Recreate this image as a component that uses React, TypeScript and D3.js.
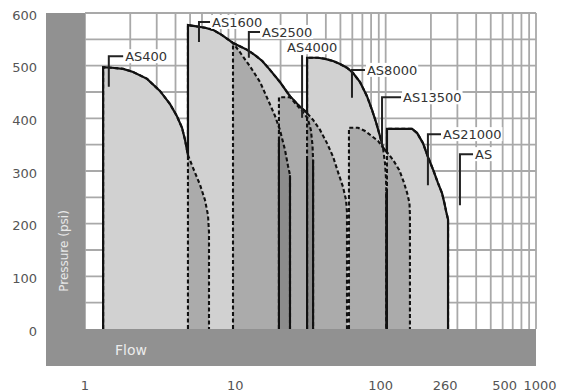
import React from 'react';
import * as d3 from 'd3';

const W = 568;
const H = 392;

// axis ticks
const yTickValues = [0, 100, 200, 300, 400, 500, 600];
const xTickValues = [1, 10, 100, 260, 500, 1000];
const xTickLabels = ['1', '10', '100', '260', '500', '1000'];
const xTickNudge = [0, 0, -5, -3, 14, 4];

// operating envelopes [flow, psi]
const as400 = [[1.32,0],[1.32,497],[1.51,496],[1.79,494],[2.09,488],[2.59,475],[3.15,452],[3.68,427],[4.09,404],[4.42,382],[4.63,359],[4.84,330],[5.23,306],[5.82,274],[6.28,245],[6.58,216],[6.68,184],[6.68,0]];
const as1600 = [[4.84,0],[4.84,577],[5.39,575],[6.28,572],[7.10,568],[8.16,558],[9.22,547],[9.65,543],[10.7,526],[12.5,499],[14.6,469],[16.5,435],[18.4,404],[19.8,378],[21.4,340],[22.4,310],[23.1,292],[23.1,0]];
const as2500 = [[9.65,0],[9.65,543],[10.7,537],[12.0,530],[13.5,520],[15.1,509],[17.0,492],[19.8,469],[23.1,442],[26.9,422],[29.1,414],[32.9,397],[36.6,378],[40.7,353],[44.7,327],[48.2,298],[52.0,270],[54.5,245],[55.3,222],[55.3,0]];
const as4000 = [[19.5,0],[19.5,440],[23.1,440],[25.5,426],[28.0,413],[30.3,400],[31.8,378],[32.6,349],[32.9,321],[32.9,0]];
const as8000 = [[30.0,0],[30.0,515],[35.5,515],[39.5,513],[44.7,509],[49.7,503],[55.3,496],[60.7,486],[67.5,469],[75.1,442],[81.1,416],[86.2,393],[91.7,366],[96.0,344],[99.0,315],[100.5,287],[101,260],[101,0]];
const as13500 = [[57.0,0],[57.0,382],[65.5,382],[72.9,376],[81.1,366],[89.0,357],[96.0,344],[100.5,338],[112,321],[123,302],[132,279],[139,258],[144,239],[145,217],[145,0]];
const as21000 = [[102,0],[102,380],[150,380],[162,372],[177,353],[191,327],[207,302],[223,277],[237,258],[246,239],[253,222],[260,208],[260,0]];
const envelopes = [as400, as1600, as2500, as4000, as8000, as13500, as21000];

// vertical edges drawn solid in their lower part [flow, topPsi]
const solidEdgeFlow = [19.5, 23.1, 30.0, 32.9, 101, 102];
const solidEdgeTop = [359, 292, 321, 321, 260, 260];

// labels and leaders
const labelNames = ['AS400', 'AS1600', 'AS2500', 'AS4000', 'AS8000', 'AS13500', 'AS21000', 'AS'];
const leaderFlow = [1.44, 5.73, 12.3, 27.8, 59.7, 94.6, 191, 312];
const leaderTopPsi = [518, 583, 564, 520, 492, 440, 370, 332];
const leaderBottomPsi = [460, 545, 515, 401, 439, 349, 273, 235];
const labelTextFlow = [1.85, 7.0, 15.05, 22.1, 75.1, 130.5, 240.6, 393];
const labelTextPsi = [518, 583, 564, 535, 492, 440, 370, 332];
const labelElbow = [true, true, true, false, true, true, true, true];

const FONT = '"DejaVu Sans", Verdana, sans-serif';

export default function App() {
  const x = d3.scaleLog().domain([1, 1000]).range([85, 536]);
  const y = d3.scaleLinear().domain([0, 600]).range([329, 13]);
  const line = d3.line<number[]>().x(d => x(d[0])).y(d => y(d[1])).curve(d3.curveLinear);
  const closed = (e: number[][]) => line(e) + 'Z';

  const gridX: number[] = [];
  [1, 10, 100].forEach(k => { for (let m = 1; m <= 9; m++) gridX.push(m * k); });
  gridX.push(1000);
  const gridY = d3.range(50, 601, 50);

  const textW = (s: string) => s.split('').reduce((a, c) => a + (c === 'A' ? 8.9 : c === 'S' ? 8.25 : 8.27), 0);

  return (
    <svg width={W} height={H} style={{ position: 'absolute', left: 0, top: 0, background: '#fff' }}>
      <defs>
        {envelopes.map((_, i) => (
          <mask id={`m${i}`} key={i} maskUnits="userSpaceOnUse" x={0} y={0} width={W} height={H}>
            <rect x={0} y={0} width={W} height={H} fill="white" />
            {envelopes.map((e, j) => (j !== i ? <path key={j} d={closed(e)} fill="black" /> : null))}
          </mask>
        ))}
      </defs>

      {/* grid */}
      <g stroke="#a9a9a9" strokeWidth={1.8}>
        {gridY.map(v => (
          <line key={'h' + v} x1={x(1)} x2={x(1000)} y1={y(v)} y2={y(v)} />
        ))}
        {gridX.map(v => (
          <line key={'v' + v} x1={x(v)} x2={x(v)} y1={y(0)} y2={y(600)} />
        ))}
      </g>

      {/* envelope fills */}
      {envelopes.map((e, i) => <path key={'w' + i} d={closed(e)} fill="#fff" />)}
      {envelopes.map((e, i) => <path key={'f' + i} d={closed(e)} fill="#000" fillOpacity={0.18} />)}

      {/* dashed outlines (inside other envelopes) */}
      {envelopes.map((e, i) => (
        <path key={'d' + i} d={line(e) || ''} fill="none" stroke="#111" strokeWidth={2.1} strokeDasharray="4 2.5" />
      ))}
      {/* solid outlines (outside other envelopes) */}
      {envelopes.map((e, i) => (
        <path key={'s' + i} d={line(e) || ''} fill="none" stroke="#111" strokeWidth={2.2} mask={`url(#m${i})`} />
      ))}
      {solidEdgeFlow.map((f, i) => (
        <line key={'se' + i} x1={x(f)} x2={x(f)} y1={y(solidEdgeTop[i])} y2={y(0)} stroke="#111" strokeWidth={2.1} />
      ))}

      {/* gray bands */}
      <rect x={46} y={y(600)} width={x(1) - 46} height={366 - y(600)} fill="#919191" />
      <rect x={46} y={y(0)} width={x(1000) - 46} height={366 - y(0)} fill="#919191" />
      <text x={0} y={0} transform={`translate(68,251) rotate(-90)`} textAnchor="middle" fontFamily={FONT} fontSize={12} fill="#e8e8e8">Pressure (psi)</text>
      <text x={131} y={355} textAnchor="middle" fontFamily={FONT} fontSize={14} fill="#ececec">Flow</text>

      {/* y tick labels */}
      {yTickValues.map(v => (
        <text key={'yt' + v} x={37} y={y(v) + 6.5} textAnchor="end" fontFamily={FONT} fontSize={13} fill="#555">{v}</text>
      ))}
      {/* x tick labels */}
      {xTickValues.map((v, i) => (
        <text key={'xt' + v} x={x(v) + xTickNudge[i]} y={390} textAnchor="middle" fontFamily={FONT} fontSize={13} fill="#555">{xTickLabels[i]}</text>
      ))}

      {/* leaders and labels */}
      {labelNames.map((name, i) => {
        const lx = x(leaderFlow[i]);
        const ty = y(leaderTopPsi[i]);
        const by = y(leaderBottomPsi[i]);
        const tx = x(labelTextFlow[i]);
        const tyy = y(labelTextPsi[i]);
        const w = textW(name);
        const d = labelElbow[i] ? `M${lx},${by}V${ty}H${tx - 2}` : `M${lx},${by}V${ty}`;
        return (
          <g key={'lab' + i}>
            <rect x={tx - 1} y={tyy - 7} width={w + 2} height={14} fill="#fff" />
            <path d={d} fill="none" stroke="#222" strokeWidth={2} />
            <text x={tx} y={tyy + 5} fontFamily={FONT} fontSize={13} fill="#333">{name}</text>
          </g>
        );
      })}
    </svg>
  );
}
